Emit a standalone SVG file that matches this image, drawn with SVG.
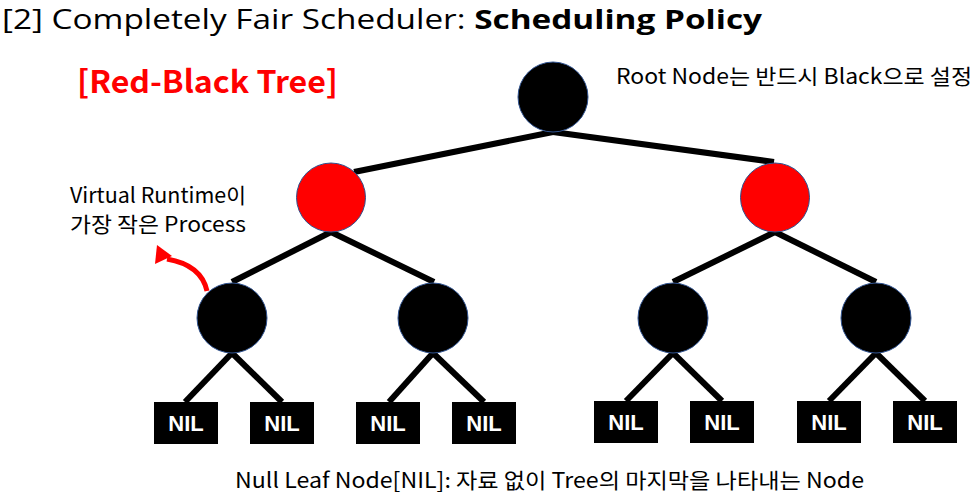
<svg xmlns="http://www.w3.org/2000/svg" width="976" height="495" viewBox="0 0 976 495">
<style>
.t{font-family:"Noto Sans CJK KR","Noto Sans",sans-serif;fill:#000}
.blk{fill:#000;stroke:#2F528F;stroke-width:1}
.red{fill:#FF0000;stroke:#2F528F;stroke-width:1}
.nil{fill:#000}
.nilt{font-family:"Liberation Sans",Arial,sans-serif;font-weight:bold;font-size:22px;fill:#fff;text-anchor:middle}
.e{stroke:#000;stroke-width:6;fill:none}
</style>
<rect width="976" height="495" fill="#fff"/>
<text x="2" y="29" font-family="Open Sans,Noto Sans,sans-serif" font-size="27" fill="#000" textLength="760" lengthAdjust="spacingAndGlyphs">[2] Completely Fair Scheduler: <tspan font-weight="bold">Scheduling Policy</tspan></text>
<text x="77" y="93" font-family="Noto Sans CJK KR,Noto Sans,sans-serif" font-weight="bold" font-size="31" fill="#FF0000" textLength="261" lengthAdjust="spacingAndGlyphs">[Red-Black Tree]</text>
<text class="t" x="616" y="84" font-size="21" textLength="356" lengthAdjust="spacingAndGlyphs">Root Node는 반드시 Black으로 설정</text>
<text class="t" x="70" y="203" font-size="21" textLength="176" lengthAdjust="spacingAndGlyphs">Virtual Runtime이</text>
<text class="t" x="70" y="232" font-size="21" textLength="176" lengthAdjust="spacingAndGlyphs">가장 작은 Process</text>
<text class="t" x="235" y="488" font-size="21" textLength="629" lengthAdjust="spacingAndGlyphs">Null Leaf Node[NIL]: 자료 없이 Tree의 마지막을 나타내는 Node</text>
<g id="connectors">
<line class="e" x1="553" y1="132" x2="354" y2="172"/>
<line class="e" x1="553" y1="132" x2="774" y2="162"/>
<line class="e" x1="331" y1="232" x2="232" y2="282"/>
<line class="e" x1="331" y1="232" x2="434" y2="282"/>
<line class="e" x1="775" y1="232" x2="673" y2="282"/>
<line class="e" x1="775" y1="232" x2="876" y2="282"/>
<line class="e" x1="232" y1="353" x2="185" y2="402"/>
<line class="e" x1="232" y1="353" x2="282" y2="402"/>
<line class="e" x1="433" y1="353" x2="389" y2="402"/>
<line class="e" x1="433" y1="353" x2="484" y2="402"/>
<line class="e" x1="673" y1="353" x2="626" y2="401"/>
<line class="e" x1="673" y1="353" x2="722" y2="401"/>
<line class="e" x1="876" y1="353" x2="829" y2="401"/>
<line class="e" x1="876" y1="353" x2="925" y2="401"/>
<path d="M207,291 C203,273 190,263 167,259" stroke="#FF0000" stroke-width="5" fill="none"/>
<polygon points="157,245 155,264 172,256" fill="#FF0000"/>
</g>
<g id="root"><circle class="blk" cx="553" cy="97" r="35"/></g>
<g id="red-left"><circle class="red" cx="331" cy="197.5" r="34.5"/></g>
<g id="red-right"><circle class="red" cx="775" cy="197.5" r="34.5"/></g>
<g id="b1"><circle class="blk" cx="232" cy="318" r="35"/></g>
<g id="b2"><circle class="blk" cx="433" cy="318" r="35"/></g>
<g id="b3"><circle class="blk" cx="673" cy="318" r="35"/></g>
<g id="b4"><circle class="blk" cx="876" cy="318" r="35"/></g>
<g id="nil1"><rect class="nil" x="154" y="402" width="64" height="42"/><text class="nilt" x="186" y="431">NIL</text></g>
<g id="nil2"><rect class="nil" x="250" y="402" width="64" height="42"/><text class="nilt" x="282" y="431">NIL</text></g>
<g id="nil3"><rect class="nil" x="356" y="402" width="64" height="42"/><text class="nilt" x="388" y="431">NIL</text></g>
<g id="nil4"><rect class="nil" x="452" y="402" width="64" height="42"/><text class="nilt" x="484" y="431">NIL</text></g>
<g id="nil5"><rect class="nil" x="594" y="401" width="64" height="42"/><text class="nilt" x="626" y="430">NIL</text></g>
<g id="nil6"><rect class="nil" x="690" y="401" width="64" height="42"/><text class="nilt" x="722" y="430">NIL</text></g>
<g id="nil7"><rect class="nil" x="797" y="401" width="64" height="42"/><text class="nilt" x="829" y="430">NIL</text></g>
<g id="nil8"><rect class="nil" x="893" y="401" width="64" height="42"/><text class="nilt" x="925" y="430">NIL</text></g>
</svg>
